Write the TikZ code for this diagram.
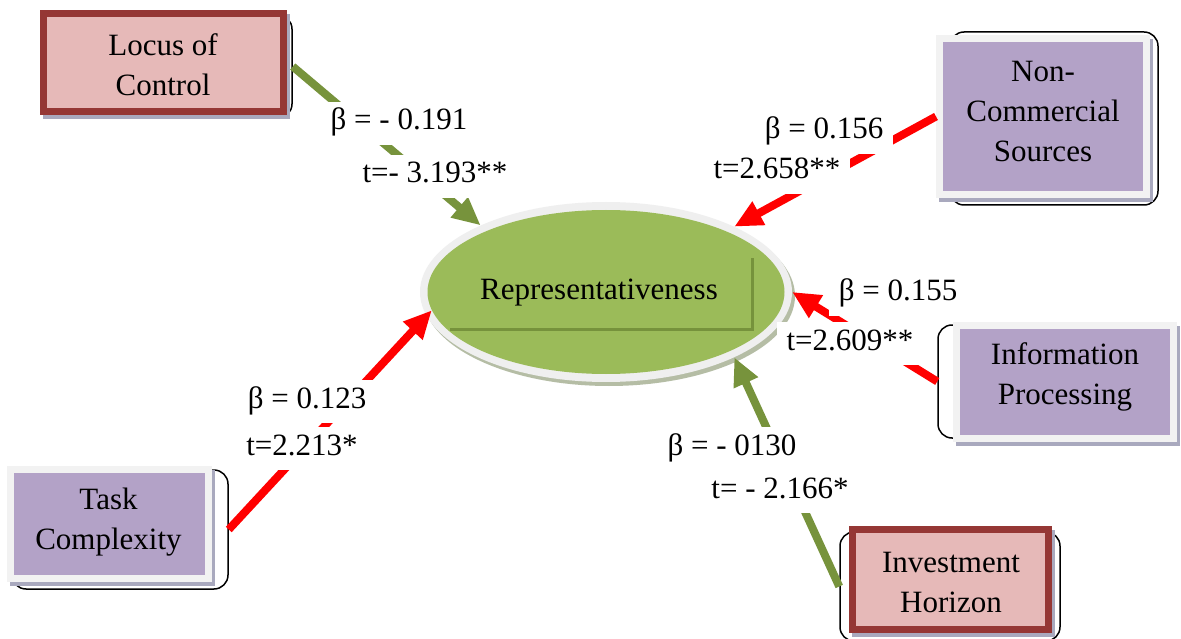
\documentclass[tikz,border=0pt]{standalone}
\usepackage{fontspec}
\setmainfont{Liberation Serif}
\usetikzlibrary{shapes.geometric,arrows.meta}
\definecolor{pinkfill}{HTML}{E6B9B8}
\definecolor{redborder}{HTML}{953735}
\definecolor{purplefill}{HTML}{B3A2C7}
\definecolor{framegrey}{HTML}{F2F2F2}
\definecolor{shadowgrey}{HTML}{A9A9BE}
\definecolor{ellgreen}{HTML}{9BBB59}
\definecolor{darkgreen}{HTML}{76923C}
\definecolor{arrowgreen}{HTML}{77933C}
\definecolor{ringgrey}{HTML}{EFEFEF}
\definecolor{ringshadow}{HTML}{B5BDA5}
\definecolor{arrowred}{HTML}{FF0000}
\begin{document}
\begin{tikzpicture}[x=1pt,y=-1pt,
  outl/.style={draw=black, line width=1.5pt, rounded corners=14pt, fill=white, inner sep=0pt},
  redbox/.style={draw=redborder, line width=7pt, fill=pinkfill, inner sep=0pt},
  purplebox/.style={draw=framegrey, line width=7pt, fill=purplefill, inner sep=0pt},
  boxtxt/.style={align=center, font=\fontsize{31}{40}\selectfont, inner sep=0pt},
  lbl/.style={fill=white, inner xsep=10pt, inner ysep=5pt, text height=23pt, text depth=10pt, anchor=base, font=\fontsize{31}{40}\selectfont},
  conn/.style={line width=8pt, -{Triangle[length=28pt,width=25pt]}},
  shad/.style={fill=shadowgrey}
]
\useasboundingbox (0,0) rectangle (1181,639);
\fill[white] (0,0) rectangle (1181,639);

% outlines (behind)
\node[outl, minimum width=247pt, minimum height=103pt] (locO) at (168.5,66.5) {};
\node[outl, minimum width=208pt, minimum height=173pt] (ncO) at (1054,118.5) {};
\node[outl, minimum width=241pt, minimum height=113pt] (ipO) at (1058.5,381.5) {};
\node[outl, minimum width=216pt, minimum height=119pt] (tcO) at (120,529.5) {};
\node[outl, minimum width=220pt, minimum height=109pt] (ihO) at (950,586.5) {};

% shadows
\fill[shad] (43,14) rectangle (290,119);
\fill[shad] (939,39) rectangle (1153,202);
\fill[shad] (956,326) rectangle (1180,446);
\fill[shad] (10,470) rectangle (215,586);
\fill[shad] (852,530) rectangle (1055,637);

% front boxes
\node[redbox, minimum width=240pt, minimum height=98pt] (loc) at (163.5,62.5) {};
\node[redbox, minimum width=196pt, minimum height=100pt] (ih) at (950.5,579.5) {};
\node[purplebox, minimum width=207pt, minimum height=156pt] (ncF) at (1043,116.5) {};
\node[purplebox, minimum width=217pt, minimum height=113pt] (ipF) at (1065,382) {};
\node[purplebox, minimum width=198pt, minimum height=109pt] (tcF) at (109.5,524) {};

% box texts
\node[boxtxt] (locT) at (163,65) {Locus of\\Control};
\node[boxtxt] (ncT) at (1043,112) {Non-\\Commercial\\Sources};
\node[boxtxt] (ipT) at (1065,377) {Information\\Processing};
\node[boxtxt] (tcT) at (108.5,522) {Task\\Complexity};
\node[boxtxt] (ihT) at (951,582) {Investment\\Horizon};

% central ellipse
\node[ellipse, fill=ringshadow, minimum width=372pt, minimum height=180pt, inner sep=0pt] (ringS) at (609,296) {};
\node[ellipse, fill=ringgrey, minimum width=372pt, minimum height=180pt, inner sep=0pt] (ring) at (606,292) {};
\node[ellipse, fill=ellgreen, minimum width=357pt, minimum height=164pt, inner sep=0pt] (rep) at (606,292) {};
\draw[darkgreen, line width=3pt] (450,329) -- (752,329) -- (752,258);
\node[boxtxt] (repT) at (599,293) {Representativeness};

% connectors
\draw[conn, arrowgreen] (locO.east) -- (ring.152.6);
\draw[conn, arrowred] (ncF.west) -- (ring.27.4);
\draw[conn, arrowred] (ipO.west) -- (ring.0);
\draw[conn, arrowred] (tcO.east) -- (rep.186.9);
\draw[conn, arrowgreen] (ihO.west) -- (ring.-27.4);

% labels
\node[lbl] (b1) at (399,130) {β = - 0.191};
\node[lbl] (t1) at (435,183) {t=- 3.193**};
\node[lbl] (b2) at (824,139) {β = 0.156};
\node[lbl] (t2) at (777,179) {t=2.658**};
\node[lbl] (b3) at (898,301) {β = 0.155};
\node[lbl] (t3) at (850,350) {t=2.609**};
\node[lbl] (b4) at (307,408) {β = 0.123};
\node[lbl] (t4) at (302,455) {t=2.213*};
\node[lbl] (b5) at (732,455) {β = - 0130};
\node[lbl] (t5) at (780,498) {t= - 2.166*};
\end{tikzpicture}
\end{document}
